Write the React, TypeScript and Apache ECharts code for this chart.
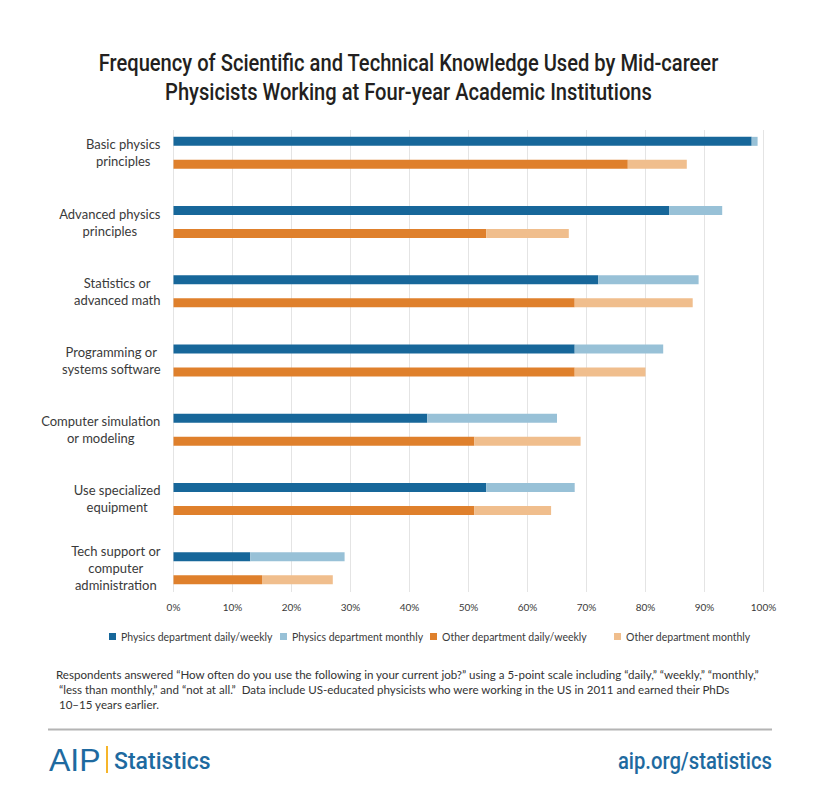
import React, { useEffect, useRef } from "react";
import * as echarts from "echarts";

const categories = [
  "Basic physics\nprinciples",
  "Advanced physics\nprinciples",
  "Statistics or\nadvanced math",
  "Programming or\nsystems software",
  "Computer simulation\nor modeling",
  "Use specialized\nequipment",
  "Tech support or\ncomputer\nadministration",
];
const physicsDailyWeekly = [98, 84, 72, 68, 43, 53, 13];
const physicsMonthly = [1, 9, 17, 15, 22, 15, 16];
const otherDailyWeekly = [77, 53, 68, 68, 51, 51, 15];
const otherMonthly = [10, 14, 20, 12, 18, 13, 12];
const seriesNames = [
  "Physics department daily/weekly",
  "Physics department monthly",
  "Other department daily/weekly",
  "Other department monthly",
];
const xMin = 0;
const xMax = 100;
const xInterval = 10;

const titleLines = [
  "Frequency of Scientific and Technical Knowledge Used by Mid-career",
  "Physicists Working at Four-year Academic Institutions",
];
const noteLines = [
  "Respondents answered \u201cHow often do you use the following in your current job?\u201d using a 5-point scale including \u201cdaily,\u201d \u201cweekly,\u201d \u201cmonthly,\u201d",
  " \u201cless than monthly,\u201d and \u201cnot at all.\u201d  Data include US-educated physicists who were working in the US in 2011 and earned their PhDs",
  " 10\u201315 years earlier.",
];

const C_DARK_BLUE = "#17679a";
const C_LIGHT_BLUE = "#98c1d7";
const C_ORANGE = "#df802c";
const C_LIGHT_ORANGE = "#f0be8d";
const TEXT = "#3a3a3a";
const LABEL_FONT = "Lato, 'Open Sans', sans-serif";
const HEAD_FONT = "Roboto, 'Noto Sans', sans-serif";

export default function App() {
  const ref = useRef<HTMLDivElement>(null);
  useEffect(() => {
    document.body.style.margin = "0";
    document.body.style.overflow = "hidden";
    const chart = echarts.init(ref.current!, null, { renderer: "svg" });
    const colors = [C_DARK_BLUE, C_LIGHT_BLUE, C_ORANGE, C_LIGHT_ORANGE];
    const legendLefts = [109, 280, 430, 614];
    const stacks = ["physics", "physics", "other", "other"];
    const datas = [physicsDailyWeekly, physicsMonthly, otherDailyWeekly, otherMonthly];

    chart.setOption({
      animation: false,
      backgroundColor: "#ffffff",
      legend: seriesNames.map((n, i) => ({
        data: [n],
        left: legendLefts[i],
        top: 631,
        itemWidth: 7,
        itemHeight: 7,
        icon: "rect",
        padding: 0,
        textStyle: { fontFamily: LABEL_FONT, fontSize: 10.5, color: TEXT },
      })),
      grid: [
        { left: 173.5, width: 590, top: 118.2, height: 484.6, containLabel: false },
        { left: 173.5, width: 590, top: 130, height: 462, containLabel: false },
      ],
      xAxis: [
        { gridIndex: 0, type: "value", min: xMin, max: xMax, interval: xInterval, show: false },
        {
          gridIndex: 1,
          type: "value",
          min: xMin,
          max: xMax,
          interval: xInterval,
          axisLine: { show: false },
          axisTick: { show: false },
          splitLine: { show: true, lineStyle: { color: "#e4e4e4", width: 1 } },
          axisLabel: {
            formatter: "{value}%",
            fontFamily: LABEL_FONT,
            fontSize: 10,
            color: TEXT,
            margin: 10,
          },
        },
      ],
      yAxis: [
        {
          gridIndex: 0,
          type: "category",
          data: categories,
          inverse: true,
          axisLine: { show: false },
          axisTick: { show: false },
          splitLine: { show: false },
          axisLabel: {
            align: "right",
            margin: 13,
            formatter: (v: string) =>
              v
                .split("\n")
                .map((l) => `{c|${l}}`)
                .join("\n"),
            rich: {
              c: {
                align: "center",
                fontFamily: LABEL_FONT,
                fontSize: 13,
                lineHeight: 17,
                color: TEXT,
              },
            },
          },
        },
        { gridIndex: 1, type: "value", min: 0, max: 1, show: false },
      ],
      series: seriesNames.map((n, i) => ({
        name: n,
        type: "bar",
        xAxisIndex: 0,
        yAxisIndex: 0,
        stack: stacks[i],
        data: datas[i],
        barWidth: 9,
        barGap: "155%",
        itemStyle: { color: colors[i] },
      })),
      graphic: [
        ...titleLines.map((t, i) => ({
          type: "text",
          x: 408.5,
          y: 63 + i * 29.5,
          scaleX: 0.875,
          style: {
            text: t,
            font: `500 23px ${HEAD_FONT}`,
            fill: "#231f20",
            align: "center",
            verticalAlign: "middle",
          },
        })),
        ...noteLines.map((t, i) => ({
          type: "text",
          left: 56,
          top: 668 + i * 15,
          style: { text: t, font: `11.55px ${LABEL_FONT}`, fill: "#333333" },
        })),
        {
          type: "line",
          shape: { x1: 48, y1: 729.5, x2: 772, y2: 729.5 },
          style: { stroke: "#b4b4b4", lineWidth: 2 },
        },
        {
          type: "text",
          x: 49,
          y: 760,
          style: {
            text: "AIP",
            font: "normal 32px 'Liberation Sans', sans-serif",
            fill: "#1e6aa0",
            verticalAlign: "middle",
          },
        },
        {
          type: "rect",
          shape: { x: 106, y: 746, width: 2, height: 27 },
          style: { fill: "#f6b52a" },
        },
        {
          type: "text",
          x: 114,
          y: 761,
          style: {
            text: "Statistics",
            font: `500 23px ${HEAD_FONT}`,
            fill: "#1e6aa0",
            verticalAlign: "middle",
          },
        },
        {
          type: "text",
          x: 772,
          y: 761,
          scaleX: 0.88,
          style: {
            text: "aip.org/statistics",
            font: `500 23px ${HEAD_FONT}`,
            fill: "#1e6aa0",
            align: "right",
            verticalAlign: "middle",
          },
        },
      ],
    });
    return () => chart.dispose();
  }, []);
  return <div ref={ref} style={{ width: 820, height: 809 }} />;
}
